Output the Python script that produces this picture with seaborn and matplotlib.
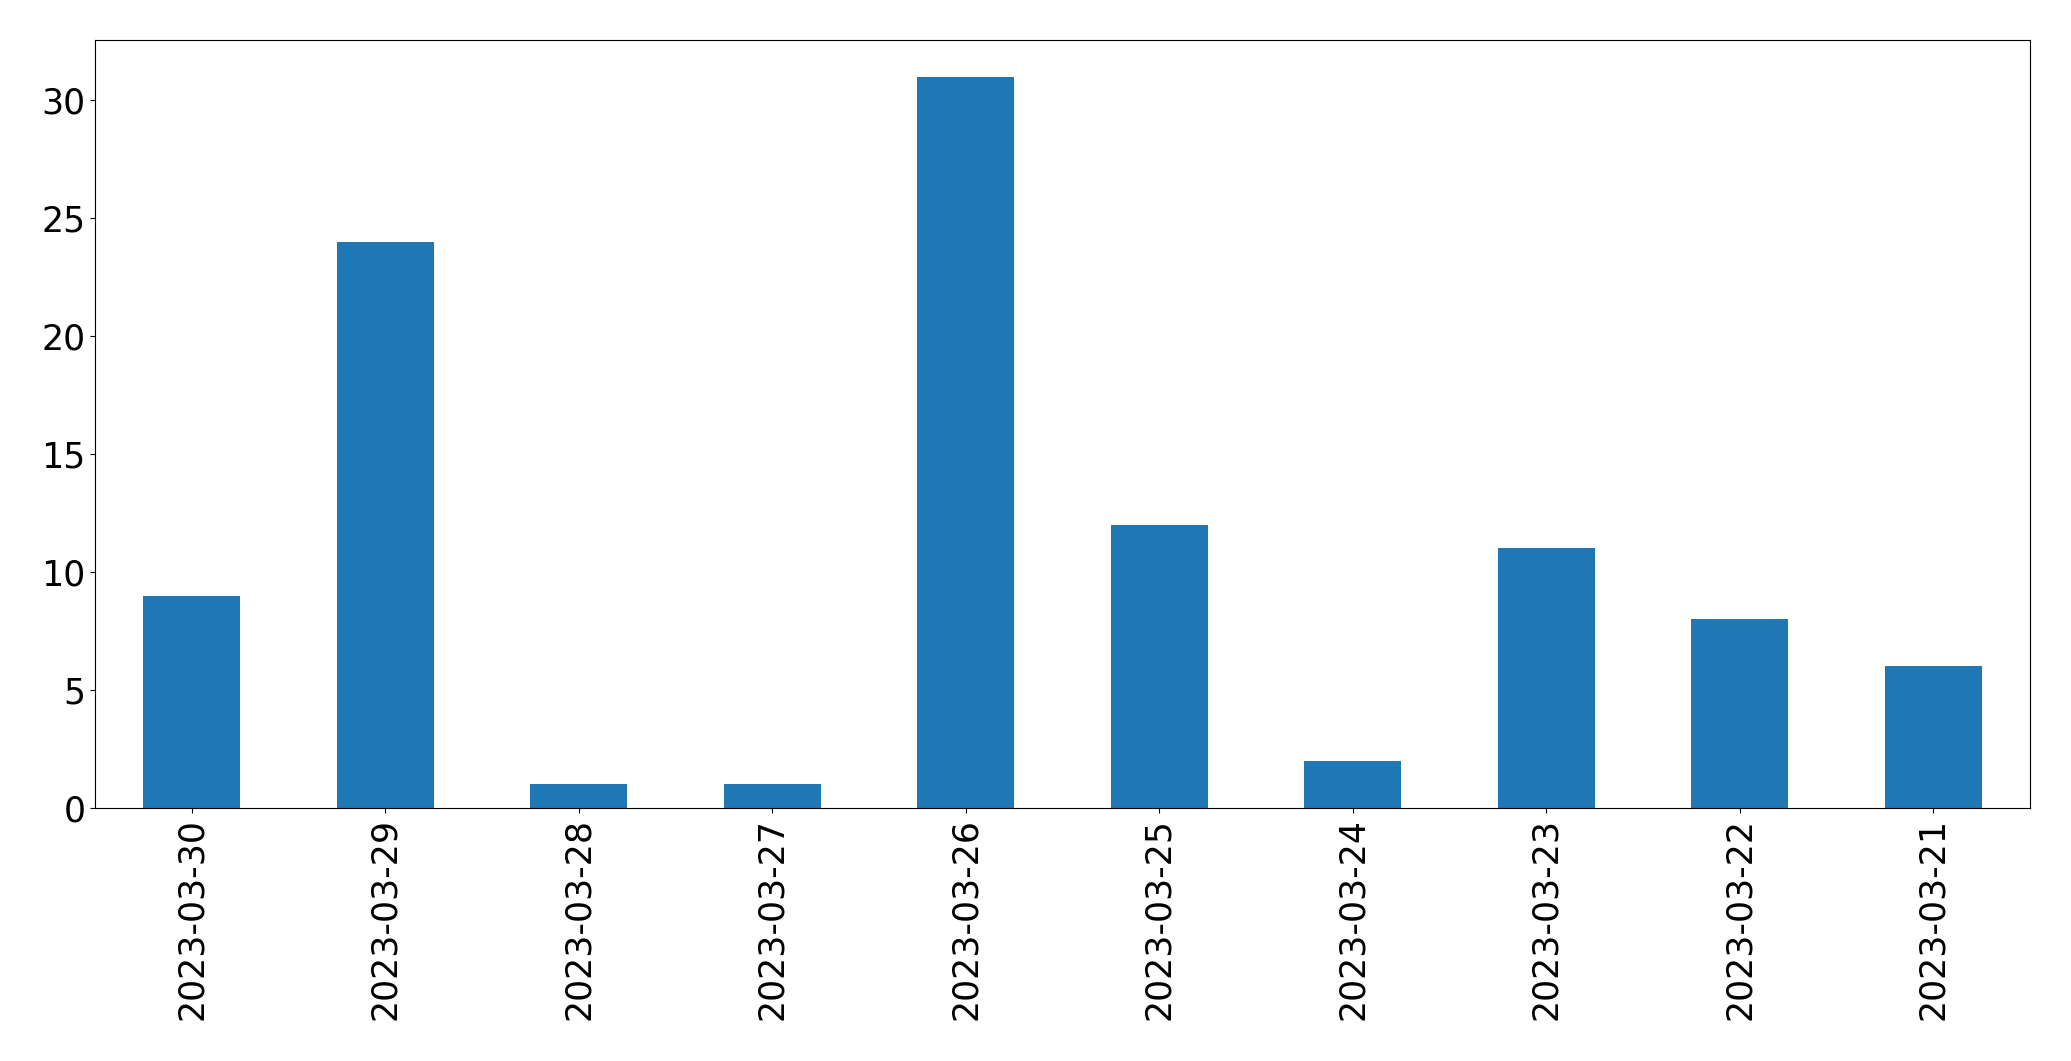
import pandas as pd
import matplotlib.pyplot as plt
import seaborn as sns

# daily counts, newest first (as in the source chart)
dates = ['2023-03-30', '2023-03-29', '2023-03-28', '2023-03-27', '2023-03-26',
         '2023-03-25', '2023-03-24', '2023-03-23', '2023-03-22', '2023-03-21']
counts = [9, 24, 1, 1, 31, 12, 2, 11, 8, 6]

df = pd.DataFrame({'date': dates, 'count': counts})

fig, ax = plt.subplots(figsize=(20.71, 10.61), dpi=100)
sns.barplot(data=df, x='date', y='count', order=dates, color='#1f77b4',
            saturation=1, width=0.5, ax=ax)

ax.set_xlabel('')
ax.set_ylabel('')
ax.set_yticks([0, 5, 10, 15, 20, 25, 30])
ax.set_ylim(0, 32.55)
ax.set_xlim(-0.5, len(dates) - 0.5)
ax.tick_params(axis='both', labelsize=25)
ax.tick_params(axis='x', labelrotation=90)

plt.subplots_adjust(left=95 / 2071, right=2030 / 2071, top=1 - 40 / 1061, bottom=1 - 808 / 1061)
plt.savefig('out.png', dpi=100)
